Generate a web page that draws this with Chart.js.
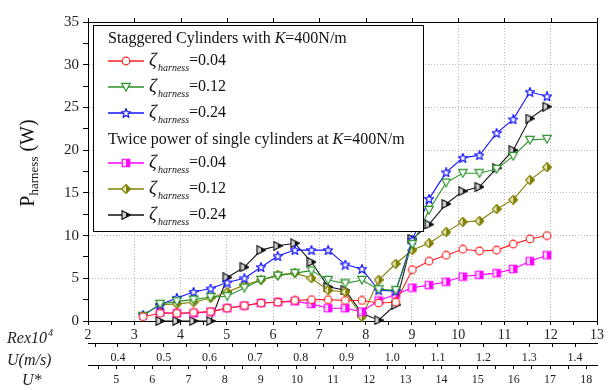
<!DOCTYPE html>
<html>
<head>
<meta charset="utf-8">
<script src="https://cdn.jsdelivr.net/npm/chart.js@4"></script>
<style>
  html, body { margin: 0; padding: 0; background: #fff; }
  canvas { display: block; }
</style>
</head>
<body>
<canvas id="c" width="610" height="390"></canvas>
<script>
// Re x10^4 of every test point
const reValues = [3.19, 3.56, 3.92, 4.28, 4.65, 5.01, 5.38, 5.74, 6.10, 6.47, 6.83, 7.19, 7.56,
                  7.92, 8.28, 8.65, 9.01, 9.37, 9.74, 10.10, 10.46, 10.83, 11.19, 11.55, 11.92];

// staggered cylinders, K=400N/m
const stag004 = [0.5, 0.9, 0.9, 1.0, 1.1, 1.5, 1.8, 2.1, 2.2, 2.4, 2.5, 2.5, 2.4, 2.4, 2.1, 2.2,
                 6.0, 7.0, 7.7, 8.4, 8.2, 8.3, 9.0, 9.6, 10.0];
const stag012 = [0.6, 2.0, 2.3, 2.5, 2.8, 2.9, 3.9, 4.8, 5.3, 5.6, 5.9, 4.8, 4.4, 4.8, 3.7, 3.6,
                 9.0, 13.0, 16.2, 17.3, 17.3, 17.8, 19.3, 21.2, 21.3];
const stag024 = [0.7, 1.9, 2.7, 3.4, 3.8, 4.5, 5.0, 6.3, 7.6, 8.3, 8.3, 8.3, 6.6, 6.1, 3.6, 3.5,
                 9.5, 14.3, 17.4, 19.1, 19.4, 22.0, 23.6, 26.8, 26.3];

// twice power of single cylinders, K=400N/m
const twice004 = [null, 1.0, 0.9, 0.9, 1.1, 1.5, 1.8, 2.1, 2.2, 2.3, 2.0, 1.5, 1.5, 1.1, 2.4, 3.1,
                  3.9, 4.2, 4.6, 5.2, 5.4, 5.6, 6.1, 7.0, 7.7];
const twice012 = [null, 1.9, 2.0, 2.2, 2.7, 3.4, 4.2, 4.8, 5.4, 5.6, 5.0, 3.6, 3.4, 0.5, 4.8, 6.7,
                  8.3, 9.1, 10.4, 11.6, 11.7, 13.1, 14.2, 16.5, 18.0];
const twice024 = [null, 0, 0, 0, 0, 5.1, 6.3, 8.3, 8.8, 9.1, 6.9, 4.0, 3.6, 0.9, 0.1, 1.9,
                  9.6, 11.3, 13.7, 15.2, 15.7, 17.9, 20.0, 23.7, 25.1];

const zetaLabels = ["0.04", "0.12", "0.24", "0.04", "0.12", "0.24"];

// axis ticks
const reTicks = [2, 3, 4, 5, 6, 7, 8, 9, 10, 11, 12, 13];
const uTicks = [0.4, 0.5, 0.6, 0.7, 0.8, 0.9, 1.0, 1.1, 1.2, 1.3, 1.4];
const uStarTicks = [5, 6, 7, 8, 9, 10, 11, 12, 13, 14, 15, 16, 17, 18];
const yTicks = [0, 5, 10, 15, 20, 25, 30, 35];

const serif = '"Liberation Serif", "Times New Roman", serif';

// labelled ticks plus a half-step minor tick between each pair
const withMinor = (arr, lo, hi) => {
  const out = [];
  const step = arr[1] - arr[0];
  for (let v = arr[0] - step / 2; v >= lo; v -= step / 2) out.unshift(v);
  arr.forEach(v => {
    out.push(v);
    out.push(+(v + step / 2).toFixed(4));
  });
  return out.filter(v => v >= lo - 1e-9 && v <= hi + 1e-9);
};
const isMajor = (arr, v) => arr.some(t => Math.abs(t - v) < 1e-6);

function marker(kind, color, light) {
  const S = 10;
  const c = document.createElement("canvas");
  c.width = S; c.height = S;
  const g = c.getContext("2d");
  g.scale(S / 12, S / 12);
  const path = () => {
    g.beginPath();
    if (kind === "circle") g.arc(6, 6, 4.6, 0, Math.PI * 2);
    if (kind === "triDown") { g.moveTo(0.9, 1.6); g.lineTo(11.1, 1.6); g.lineTo(6, 11); }
    if (kind === "star") {
      for (let k = 0; k < 10; k++) {
        const r = k % 2 ? 2.5 : 5.8;
        const a = -Math.PI / 2 + k * Math.PI / 5;
        g.lineTo(6 + r * Math.cos(a), 6.5 + r * Math.sin(a));
      }
    }
    if (kind === "square") g.rect(1.5, 1.5, 9, 9);
    if (kind === "diamond") { g.moveTo(6, 0.6); g.lineTo(11.4, 6); g.lineTo(6, 11.4); g.lineTo(0.6, 6); }
    if (kind === "triRight") { g.moveTo(1.2, 0.8); g.lineTo(11.4, 6); g.lineTo(1.2, 11.2); }
    g.closePath();
  };
  path();
  g.fillStyle = "#fff";
  g.fill();
  if (light) {
    g.save();
    path();
    g.clip();
    g.fillStyle = light;
    g.fillRect(0, 0, 6, 12);
    g.fillStyle = color;
    g.fillRect(6, 0, 6, 12);
    g.restore();
  }
  path();
  g.lineWidth = 1.4;
  g.strokeStyle = color;
  g.stroke();
  return c;
}

const series = [
  { data: stag004, color: "#ff2020", kind: "circle" },
  { data: stag012, color: "#2a932a", kind: "triDown" },
  { data: stag024, color: "#1414ff", kind: "star" },
  { data: twice004, color: "#ff00ff", kind: "square", light: "#ffd8ff" },
  { data: twice012, color: "#808000", kind: "diamond", light: "#e8e6c4" },
  { data: twice024, color: "#111111", kind: "triRight", light: "#d2d2d2" },
];
series.forEach(s => { s.img = marker(s.kind, s.color, s.light); });

const datasets = series.map(s => ({
  data: reValues.map((x, i) => ({ x, y: s.data[i] })).filter(p => p.y != null),
  borderColor: s.color,
  borderWidth: 1.1,
  pointStyle: s.img,
  pointRadius: 5,
  clip: false,
  tension: 0,
}));

const tickFont = size => ({ family: serif, size });

const decor = {
  id: "decor",
  beforeDraw(chart) {
    const { ctx } = chart;
    ctx.save();
    ctx.fillStyle = "#fff";
    ctx.fillRect(0, 0, chart.width, chart.height);
    ctx.restore();
  },
  afterDraw(chart) {
    const { ctx, chartArea: a, scales } = chart;
    ctx.save();
    // top and right frame
    ctx.strokeStyle = "#000";
    ctx.lineWidth = 1;
    ctx.beginPath();
    ctx.moveTo(a.left, a.top + 0.5);
    ctx.lineTo(a.right + 0.5, a.top + 0.5);
    ctx.lineTo(a.right + 0.5, a.bottom);
    ctx.stroke();
    ctx.beginPath();
    reTicks.forEach(v => {
      const px = Math.round(scales.x.getPixelForValue(v)) + 0.5;
      ctx.moveTo(px, a.top);
      ctx.lineTo(px, a.top - 4);
    });
    ctx.stroke();

    // legend box
    const L = { x: 93.5, y: 25.5, w: 330, h: 206 };
    ctx.fillStyle = "#fff";
    ctx.fillRect(L.x, L.y, L.w, L.h);
    ctx.strokeRect(L.x, L.y, L.w, L.h);
    ctx.fillStyle = "#111";
    ctx.textBaseline = "middle";
    const title = (txt, y) => {
      ctx.font = `16px ${serif}`;
      ctx.fillText(txt, 108, y);
      let x = 108 + ctx.measureText(txt).width;
      ctx.font = `italic 16px ${serif}`;
      ctx.fillText("K", x, y);
      x += ctx.measureText("K").width;
      ctx.font = `16px ${serif}`;
      ctx.fillText("=400N/m", x, y);
    };
    const row = (i, y) => {
      const s = series[i];
      ctx.strokeStyle = s.color;
      ctx.lineWidth = 1.3;
      ctx.beginPath();
      ctx.moveTo(108, y);
      ctx.lineTo(144, y);
      ctx.stroke();
      ctx.drawImage(s.img, 121, y - 5);
      ctx.fillStyle = "#111";
      ctx.font = `italic 19px ${serif}`;
      ctx.fillText("\u03b6", 149, y);
      ctx.font = `italic 10px ${serif}`;
      ctx.fillText("harness", 158, y + 7);
      ctx.font = `16px ${serif}`;
      ctx.fillText("=" + zetaLabels[i], 189, y);
    };
    title("Staggered Cylinders with ", 39);
    row(0, 61); row(1, 87); row(2, 113);
    title("Twice power of single cylinders at ", 140);
    row(3, 163); row(4, 189); row(5, 215);

    // y axis title, rotated
    ctx.save();
    ctx.translate(34, 163);
    ctx.rotate(-Math.PI / 2);
    ctx.textBaseline = "alphabetic";
    ctx.fillStyle = "#111";
    const parts = [["P", 20, 0], ["harness", 13, 4], [" (W)", 20, 0]];
    let w = 0;
    parts.forEach(p => { ctx.font = `${p[1]}px ${serif}`; w += ctx.measureText(p[0]).width; });
    let x = -w / 2;
    parts.forEach(p => {
      ctx.font = `${p[1]}px ${serif}`;
      ctx.fillText(p[0], x, p[2]);
      x += ctx.measureText(p[0]).width;
    });
    ctx.restore();

    // names of the three x axes
    ctx.textBaseline = "alphabetic";
    ctx.fillStyle = "#222";
    ctx.font = `italic 16px ${serif}`;
    ctx.fillText("Rex10", 7, 343);
    const rw = ctx.measureText("Rex10").width;
    ctx.font = `italic 10px ${serif}`;
    ctx.fillText("4", 7 + rw + 1, 336);
    ctx.font = `italic 16px ${serif}`;
    ctx.fillText("U(m/s)", 7, 365);
    ctx.fillText("U*", 22, 385);
    ctx.restore();
  },
};

const bottomAxis = (min, max, major, height, pad, size, weight, grid) => ({
  type: "linear",
  position: "bottom",
  weight,
  min, max,
  afterBuildTicks: s => { s.ticks = withMinor(major, min, max).map(v => ({ value: v })); },
  afterFit: s => { s.height = height; },
  ticks: {
    autoSkip: false,
    maxRotation: 0,
    padding: pad,
    color: "#222",
    font: tickFont(size),
    callback: v => isMajor(major, v) ? v.toFixed(1) : "",
  },
  grid: {
    drawOnChartArea: grid,
    color: c => grid && c.tick && isMajor(major, c.tick.value) ? "#b8b8b8" : "rgba(0,0,0,0)",
    tickColor: "#000",
    tickLength: 4,
    lineWidth: 1,
  },
  border: { display: true, color: "#000", width: 1, dash: [1, 2] },
});

const xMain = bottomAxis(2, 13, reTicks, 22, 2, 14, 0, true);
xMain.ticks.callback = v => isMajor(reTicks, v) ? String(v) : "";
const xU = bottomAxis(0.3344, 1.4481, uTicks, 22, 4, 12, 1, false);
const xUStar = bottomAxis(4.22, 18.3, uStarTicks, 25, 4, 12, 2, false);
xUStar.ticks.callback = v => isMajor(uStarTicks, v) ? String(v) : "";

new Chart(document.getElementById("c"), {
  type: "line",
  data: { datasets },
  options: {
    responsive: false,
    animation: false,
    layout: { padding: { top: 22, right: 13, left: 0, bottom: 0 } },
    plugins: { legend: { display: false }, tooltip: { enabled: false } },
    scales: {
      x: xMain,
      x2: xU,
      x3: xUStar,
      y: {
        type: "linear",
        position: "left",
        min: 0, max: 35,
        afterBuildTicks: s => { s.ticks = withMinor(yTicks, 0, 35).map(v => ({ value: v })); },
        afterFit: s => { s.width = 88; },
        ticks: {
          autoSkip: false,
          padding: 4,
          color: "#222",
          font: tickFont(15),
          callback: v => isMajor(yTicks, v) ? String(v) : "",
        },
        grid: {
          color: c => c.tick && isMajor(yTicks, c.tick.value) ? "#b8b8b8" : "rgba(0,0,0,0)",
          tickColor: "#000",
          tickLength: 5,
        },
        border: { display: true, color: "#000", width: 1, dash: [1, 2] },
      },
    },
  },
  plugins: [decor],
});
</script>
</body>
</html>
